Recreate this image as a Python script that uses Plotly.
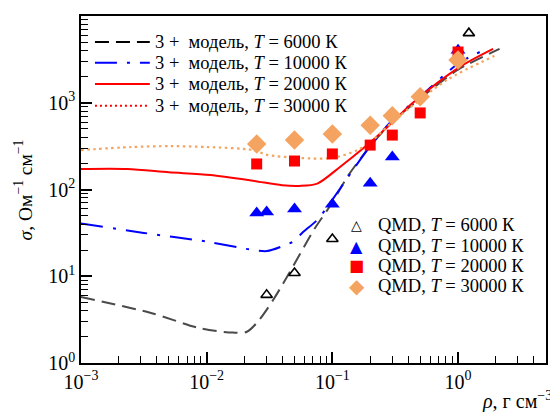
import plotly.graph_objects as go

# ---------------- data ----------------
# model curves (3+ model), rho in g/cm^3, sigma in Ohm^-1 cm^-1
rho_6000 = [0.001, 0.00355, 0.0089, 0.0162, 0.0209, 0.0263, 0.0339, 0.0407, 0.055, 0.0724, 0.1, 0.132, 0.2, 0.30, 0.50, 1.0, 2.14]
sig_6000 = [5.75, 3.8, 2.51, 2.24, 2.29, 3.16, 5.37, 8.3, 17.8, 35.5, 70.8, 141, 316, 603, 1122, 2400, 4170]

rho_10000 = [0.001, 0.00316, 0.01, 0.0219, 0.0302, 0.0407, 0.0501, 0.0575, 0.0759, 0.0912, 0.145, 0.2, 0.30, 0.50, 1.0, 1.62]
sig_10000 = [40.7, 31.6, 25.1, 20.4, 19.5, 22.4, 25.7, 31.6, 44.7, 63.1, 166, 316, 631, 1175, 2818, 4074]

rho_20000 = [0.001, 0.00234, 0.005, 0.0107, 0.0234, 0.0398, 0.055, 0.0759, 0.115, 0.188, 0.269, 0.437, 1.0, 1.9]
sig_20000 = [172, 172, 158, 147, 126, 112, 110, 117, 182, 324, 513, 1000, 2512, 4170]

rho_30000 = [0.001, 0.00251, 0.00513, 0.01, 0.0234, 0.0302, 0.055, 0.1, 0.158, 0.209, 0.302, 0.813, 1.95]
sig_30000 = [285, 309, 316, 309, 285, 251, 231, 231, 285, 372, 603, 1820, 3467]

# QMD points
qmd_rho_6000 = [0.03, 0.05, 0.1, 1.22]
qmd_sig_6000 = [6.1, 10.9, 26.9, 6340]

qmd_rho_10000 = [0.025, 0.03, 0.05, 0.1, 0.2, 0.3, 1.0]
qmd_sig_10000 = [53.6, 55, 59.6, 67.8, 118, 237, 4040]

qmd_rho_20000 = [0.025, 0.05, 0.1, 0.2, 0.3, 0.5, 1.0]
qmd_sig_20000 = [197, 213, 257, 325, 424, 763, 3845]

qmd_rho_30000 = [0.025, 0.05, 0.1, 0.2, 0.3, 0.5, 1.0]
qmd_sig_30000 = [335, 372, 436, 552, 707, 1170, 3100]

temperatures = ["6000", "10000", "20000", "30000"]
model_labels = ["3 +  модель, <i>T</i> = %s К" % t for t in temperatures]
qmd_labels = ["QMD, <i>T</i> = %s К" % t for t in temperatures]

x_tickvals = [0.001, 0.01, 0.1, 1]
x_ticktext = ["10<sup>−3</sup>", "10<sup>−2</sup>", "10<sup>−1</sup>", "10<sup>0</sup>"]
y_tickvals = [1, 10, 100, 1000, 10000]
y_ticktext = ["10<sup>0</sup>", "10<sup>1</sup>", "10<sup>2</sup>", "10<sup>3</sup>", "10<sup>4</sup>"]

FONT = "Liberation Serif, Times New Roman, serif"
ORANGE = "#f4a460"

fig = go.Figure()

line_styles = [
    (rho_6000, sig_6000, dict(color="#4a4a4a", width=2, dash="14px,7px")),
    (rho_10000, sig_10000, dict(color="#0000ff", width=2, dash="22px,10px,3px,10px")),
    (rho_20000, sig_20000, dict(color="#ff0000", width=2)),
    (rho_30000, sig_30000, dict(color=ORANGE, width=2.2, dash="2.5px,3.5px")),
]
for (xs, ys, ln), lab in zip(line_styles, model_labels):
    fig.add_trace(go.Scatter(x=xs, y=ys, mode="lines", line=dict(shape="spline", smoothing=0.8, **ln),
                             name=lab, showlegend=False))

marker_styles = [
    (qmd_rho_6000, qmd_sig_6000, dict(symbol="triangle-up-open", size=10, color="black", line=dict(width=1.6, color="black"))),
    (qmd_rho_10000, qmd_sig_10000, dict(symbol="triangle-up", size=13, color="#0000ff", line=dict(width=0))),
    (qmd_rho_20000, qmd_sig_20000, dict(symbol="square", size=11, color="#ff0000", line=dict(width=0))),
    (qmd_rho_30000, qmd_sig_30000, dict(symbol="diamond", size=15, color=ORANGE, line=dict(width=0))),
]
for (xs, ys, mk), lab in zip(marker_styles, qmd_labels):
    fig.add_trace(go.Scatter(x=xs, y=ys, mode="markers", marker=mk, name=lab, showlegend=False))

# ---- legend 1 (model lines), drawn manually: long line samples ----
leg1_y = [0.925, 0.865, 0.804, 0.741]
leg1_line = [dict(color="black", width=2, dash="14px,7px"),
             dict(color="#0000ff", width=2, dash="22px,10px,3px,10px"),
             dict(color="#ff0000", width=2),
             dict(color="#ff0000", width=2, dash="2px,3px")]
for yy, ln, lab in zip(leg1_y, leg1_line, model_labels):
    fig.add_shape(type="line", xref="paper", yref="paper", x0=0.030, x1=0.148, y0=yy, y1=yy, line=ln)
    fig.add_annotation(xref="paper", yref="paper", x=0.155, y=yy, text=lab, showarrow=False,
                       xanchor="left", yanchor="middle", font=dict(family=FONT, size=18.5, color="black"))

# ---- legend 2 (QMD markers) ----
leg2_y = [0.398, 0.337, 0.280, 0.222]
leg2_sym = [("△", 14, "black"), ("▲", 16, "#0000ff"), ("■", 16, "#ff0000"), ("◆", 20, ORANGE)]
for yy, (g, s, c), lab in zip(leg2_y, leg2_sym, qmd_labels):
    fig.add_annotation(xref="paper", yref="paper", x=0.5935, y=yy, text=g, showarrow=False,
                       xanchor="center", yanchor="middle", font=dict(family="DejaVu Sans", size=s, color=c))
    fig.add_annotation(xref="paper", yref="paper", x=0.634, y=yy, text=lab, showarrow=False,
                       xanchor="left", yanchor="middle", font=dict(family=FONT, size=18.5, color="black"))

axis_common = dict(type="log", showline=True, linecolor="black", linewidth=1.5, mirror=True,
                   automargin=False,
                   ticks="inside", ticklen=11, tickwidth=1.5, tickcolor="black",
                   showgrid=False, zeroline=False,
                   tickfont=dict(family=FONT, size=20, color="black"),
                   minor=dict(ticks="inside", ticklen=7, tickwidth=1.2, tickcolor="black", dtick="D1", showgrid=False))

fig.update_xaxes(range=[-3, 0.7], tickmode="array", tickvals=x_tickvals, ticktext=x_ticktext, **axis_common)
fig.update_yaxes(range=[0, 4], tickmode="array", tickvals=y_tickvals, ticktext=y_ticktext, **axis_common)

fig.add_annotation(xref="paper", yref="paper", x=-0.125, y=0.5, textangle=-90, showarrow=False,
                   text="<i>σ</i>, Ом<sup>−1</sup> см<sup>−1</sup>", xanchor="center", yanchor="middle",
                   font=dict(family=FONT, size=19.5, color="black"))
fig.add_annotation(xref="paper", yref="paper", x=1.017, y=-0.107, showarrow=False,
                   text="<i>ρ</i>, г см<sup>−3</sup>", xanchor="right", yanchor="middle",
                   font=dict(family=FONT, size=20, color="black"))

# the page body adds an 8px offset; compensate so the plot area lands at x 81-546, y 16-363
fig.update_layout(
    width=550, height=404,
    margin=dict(l=73, r=12, t=8, b=49),
    paper_bgcolor="white", plot_bgcolor="white",
    showlegend=False,
)

fig.write_html("out.html")
